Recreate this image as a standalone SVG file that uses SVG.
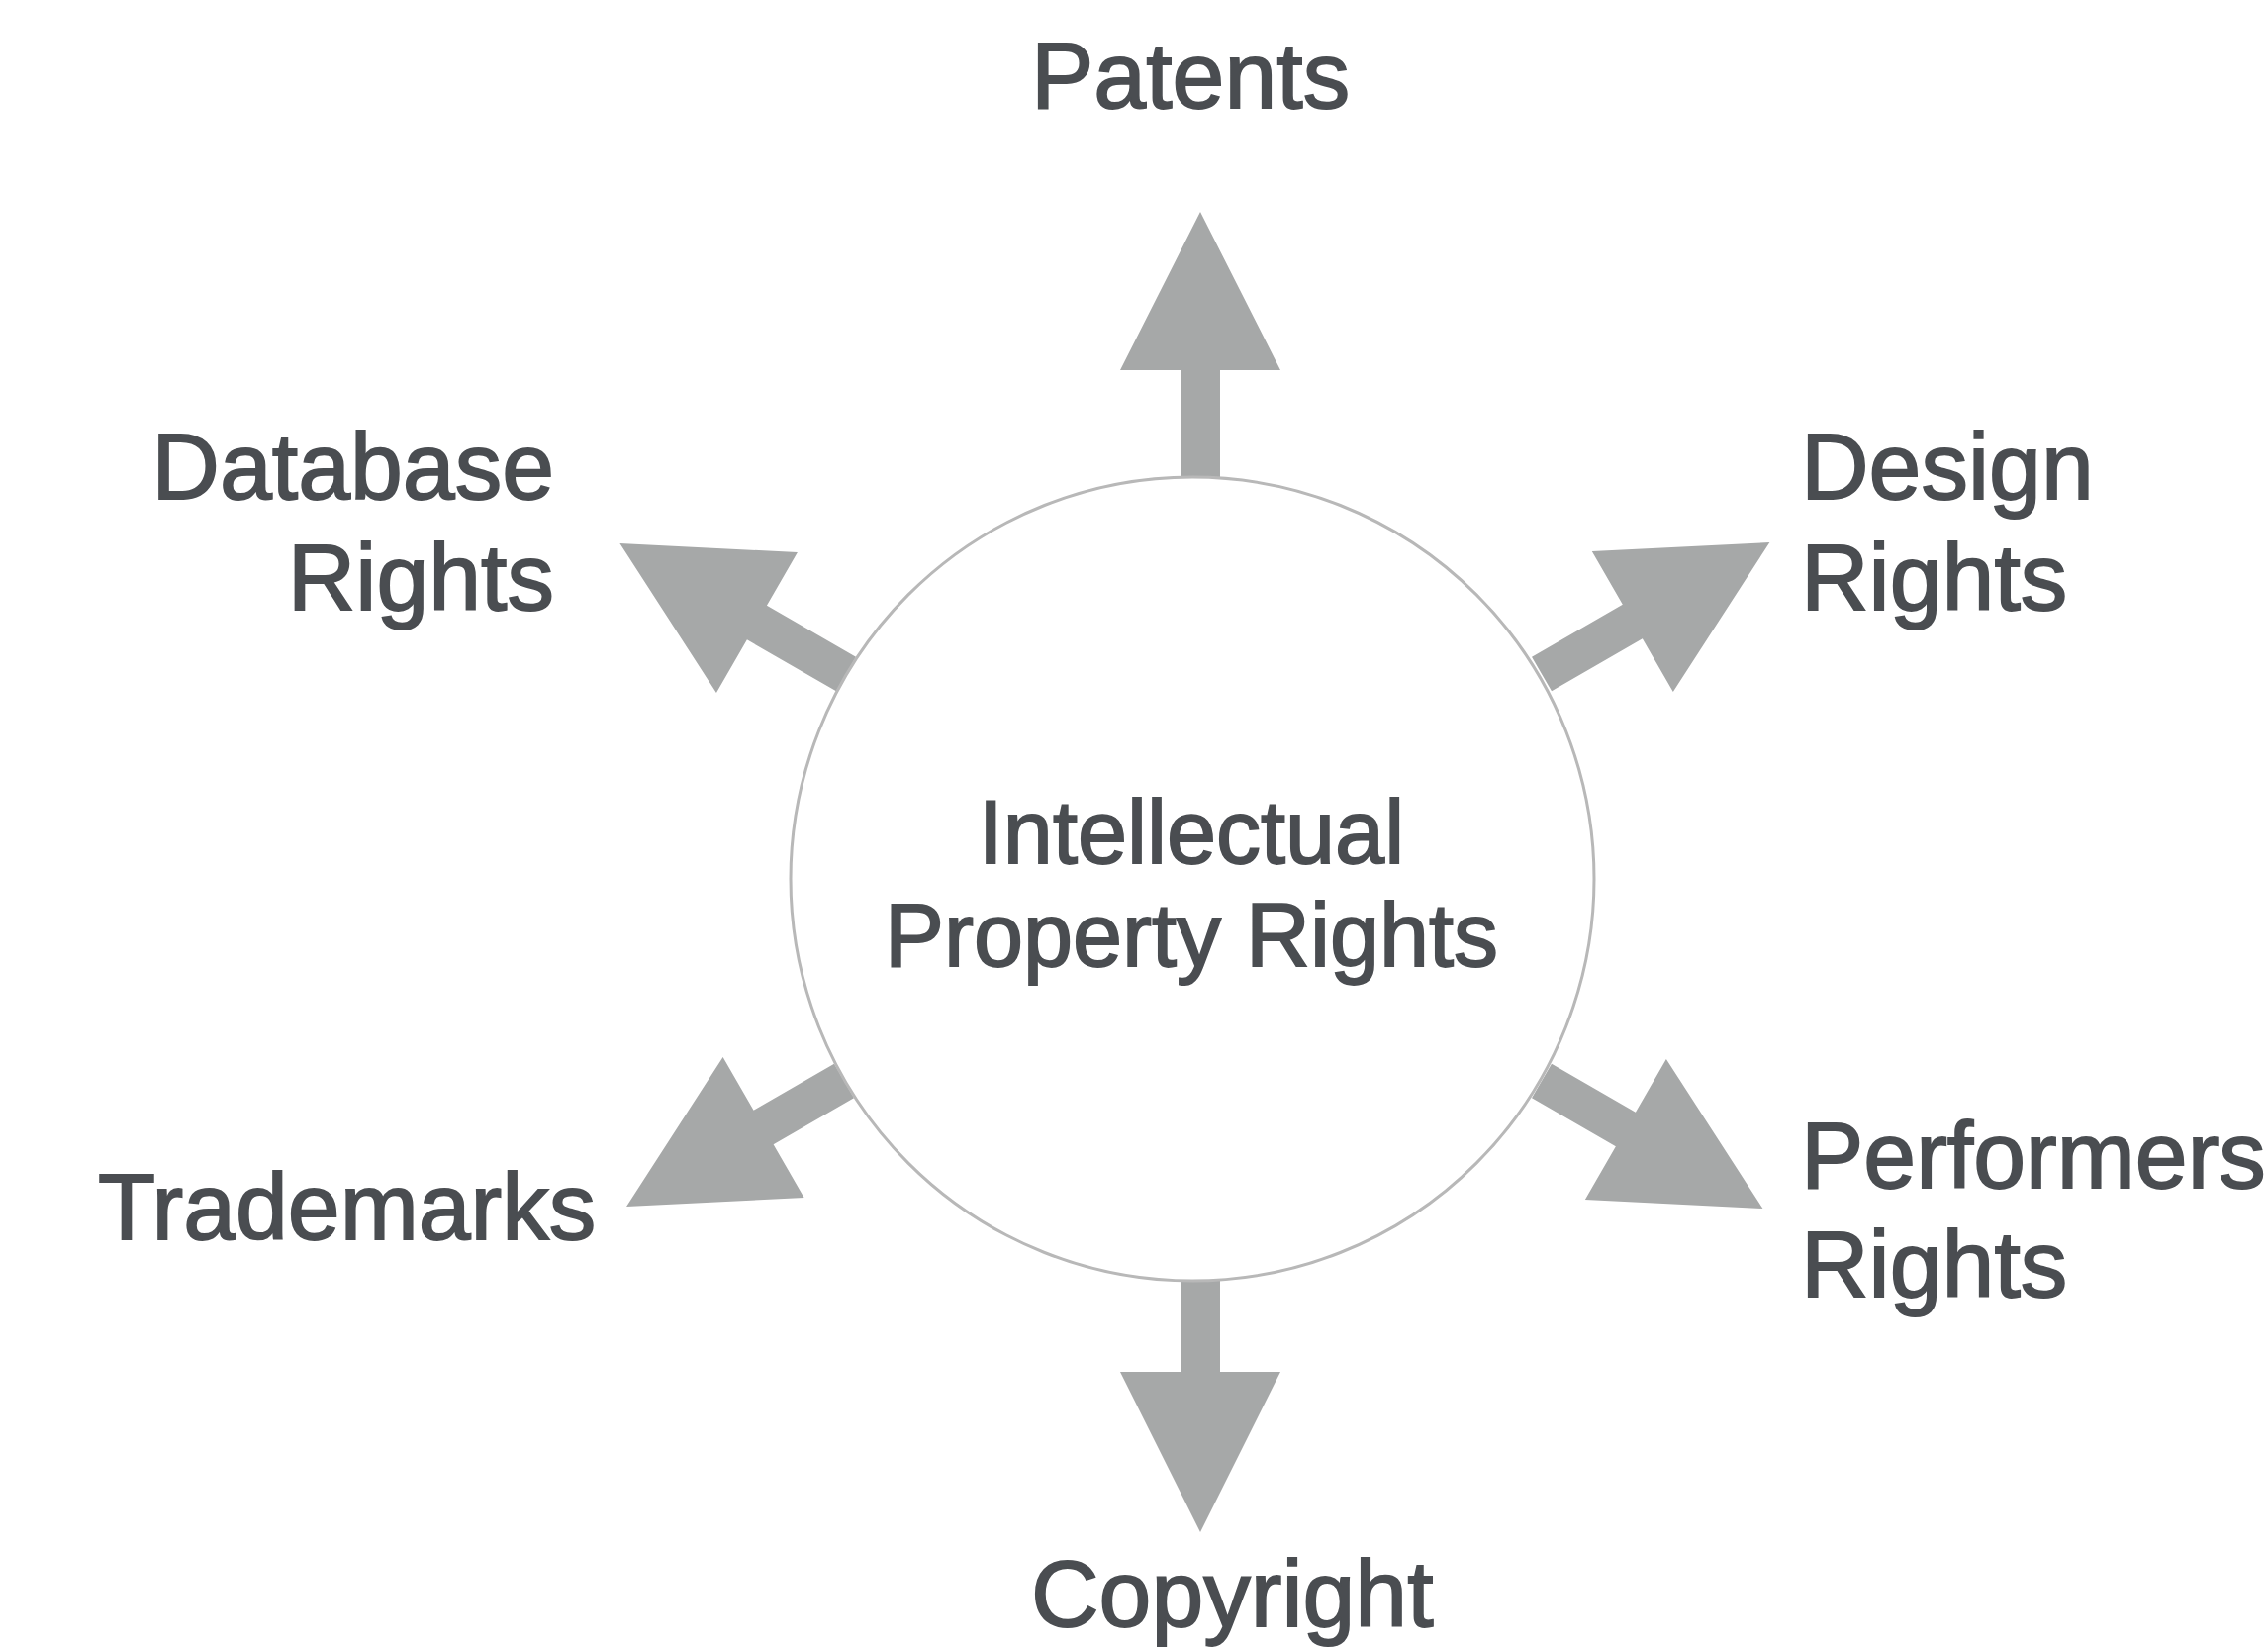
<svg xmlns="http://www.w3.org/2000/svg" width="2292" height="1665" viewBox="0 0 2292 1665">
<style>
.lbl{font-family:"Liberation Sans",Arial,Helvetica,sans-serif;font-size:95px;fill:#4a4d51;stroke:#4a4d51;stroke-width:1.8}
.ctr{font-family:"Liberation Sans",Arial,Helvetica,sans-serif;font-size:90px;fill:#4a4d51;stroke:#4a4d51;stroke-width:1.8;text-anchor:middle}
.arr{fill:#a6a8a8}
.hub{fill:#ffffff;stroke:#b8b8b8;stroke-width:3}
</style>
<rect width="2292" height="1665" fill="#ffffff"/>
<g id="connectors">
<path class="arr" transform="translate(1213,484) rotate(-90)" d="M0,-20 H110 V-81 L270,0 L110,81 V20 H0 Z"/>
<path class="arr" transform="translate(1213,1294) rotate(90)" d="M0,-20 H92 V-81 L254,0 L92,81 V20 H0 Z"/>
<path class="arr" transform="translate(855,681) rotate(-150)" d="M0,-20 H104 V-82 L264,0 L104,82 V20 H0 Z"/>
<path class="arr" transform="translate(1558,681) rotate(-30)" d="M0,-20 H106 V-82 L266,0 L106,82 V20 H0 Z"/>
<path class="arr" transform="translate(853,1092) rotate(150)" d="M0,-20 H94 V-82 L254,0 L94,82 V20 H0 Z"/>
<path class="arr" transform="translate(1558,1092) rotate(30)" d="M0,-20 H98 V-82 L258,0 L98,82 V20 H0 Z"/>
</g>
<g id="center">
<circle class="hub" cx="1205" cy="888" r="406"/>
<text class="ctr" x="1204" y="872">Intellectual</text>
<text class="ctr" x="1204" y="976">Property Rights</text>
</g>
<g id="patents"><text class="lbl" x="1042" y="109">Patents</text></g>
<g id="database-rights">
<text class="lbl" x="560" y="504" text-anchor="end">Database</text>
<text class="lbl" x="560" y="616" text-anchor="end">Rights</text>
</g>
<g id="design-rights">
<text class="lbl" x="1820" y="504">Design</text>
<text class="lbl" x="1820" y="616">Rights</text>
</g>
<g id="trademarks"><text class="lbl" x="99" y="1252">Trademarks</text></g>
<g id="performers-rights">
<text class="lbl" x="1820" y="1200">Performers</text>
<text class="lbl" x="1820" y="1310">Rights</text>
</g>
<g id="copyright"><text class="lbl" x="1042" y="1643">Copyright</text></g>
</svg>
